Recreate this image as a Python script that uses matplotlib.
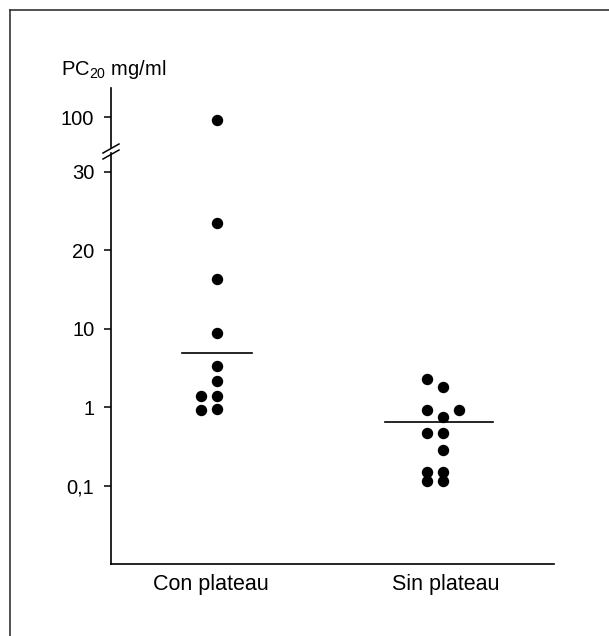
import numpy as np
import matplotlib
matplotlib.use('Agg')
import matplotlib.pyplot as plt
from matplotlib.lines import Line2D

plt.rcParams['font.family'] = ['Liberation Sans', 'DejaVu Sans']
plt.rcParams['mathtext.fontset'] = 'custom'
plt.rcParams['mathtext.rm'] = 'Liberation Sans'
plt.rcParams['mathtext.it'] = 'Liberation Sans'
plt.rcParams['mathtext.bf'] = 'Liberation Sans'

############################### data ######################################
categories = ['Con plateau', 'Sin plateau']

con_values = [94, 23.5, 16.4, 8.8, 3.4, 2.2, 1.42, 1.42, 0.92, 0.97]
con_cols = [0, 0, 0, 0, 0, 0, -1, 0, -1, 0]
con_median = 5.0

sin_values = [2.3, 1.85, 0.92, 0.92, 0.75, 0.47, 0.47, 0.29, 0.151, 0.151, 0.116, 0.116]
sin_cols = [-1, 0, -1, 1, 0, -1, 0, 0, -1, 0, -1, 0]
sin_median = 0.66

y_ticks = [0.1, 1, 10, 20, 30, 100]
y_ticklabels = ['0,1', '1', '10', '20', '30', '100']

########################## broken axis scale ##############################
K = np.log10(100 / 30)


def forward(v):
    v = np.asarray(v, dtype=float)
    vs = np.clip(v, 1e-6, None)
    lo = np.log10(vs) + 1
    mid = 2 + (v - 10) / 10
    hi = 4 + np.log10(np.clip(v, 30, None) / 30) / K * 0.70
    return np.where(v <= 10, lo, np.where(v <= 30, mid, hi))


def inverse(p):
    p = np.asarray(p, dtype=float)
    lo = 10 ** (np.clip(p, -10, 2) - 1)
    mid = 10 + (p - 2) * 10
    hi = 30 * 10 ** ((np.clip(p, 4, 20) - 4) / 0.70 * K)
    return np.where(p <= 2, lo, np.where(p <= 4, mid, hi))


W, H = 609, 636
fig = plt.figure(figsize=(W / 100, H / 100), dpi=100)


def px(x, y):
    return x / W, 1 - y / H


ax = fig.add_axes([111 / W, 1 - 564 / H, (554 - 111) / W, (564 - 88) / H])
ax.set_yscale('function', functions=(forward, inverse))
ax.set_ylim(0.01014, 189)
ax.set_xlim(-0.469, 1.491)

dx = 16 / 226
ax.plot(np.array(con_cols) * dx, con_values, 'o', color='black', ms=7.2, clip_on=False)
ax.plot(1 + np.array(sin_cols) * dx, sin_values, 'o', color='black', ms=7.2, clip_on=False)

# median lines
ax.plot([-0.155, 0.155], [con_median, con_median], color='black', lw=1.2)
ax.plot([1 - 0.257, 1 + 0.221], [sin_median, sin_median], color='black', lw=1.2)

ax.set_yticks(y_ticks)
ax.set_yticklabels(y_ticklabels)
ax.yaxis.set_minor_locator(matplotlib.ticker.NullLocator())
ax.set_xticks([-0.027, 0.013 + 1])
ax.set_xticklabels(categories)
ax.tick_params(axis='y', length=5, width=1.1, labelsize=14.5, pad=7, direction='out')
ax.tick_params(axis='x', length=0, labelsize=15.5, pad=7)

for s in ['top', 'right', 'left']:
    ax.spines[s].set_visible(False)
ax.spines['bottom'].set_linewidth(1.2)

# y axis drawn by hand with a break
for y0, y1 in [(564, 153), (147, 88)]:
    fig.add_artist(Line2D([px(111, y0)[0], px(111, y1)[0]], [px(111, y0)[1], px(111, y1)[1]],
                          color='black', lw=1.2))
for yb in [159, 153]:
    a, b = px(103, yb), px(119, yb - 9)
    fig.add_artist(Line2D([a[0], b[0]], [a[1], b[1]], color='black', lw=1.1))

fig.text(*px(61, 75), 'PC$_{20}$ mg/ml', fontsize=14.5, va='baseline', ha='left')

# frame of the original figure
fig.add_artist(Line2D([px(10, 636)[0], px(10, 10)[0]], [px(10, 636)[1], px(10, 10)[1]], color='#333333', lw=1.2))
fig.add_artist(Line2D([px(10, 10)[0], px(609, 10)[0]], [px(10, 10)[1], px(609, 10)[1]], color='#333333', lw=1.2))

fig.savefig('out.png', dpi=100)
